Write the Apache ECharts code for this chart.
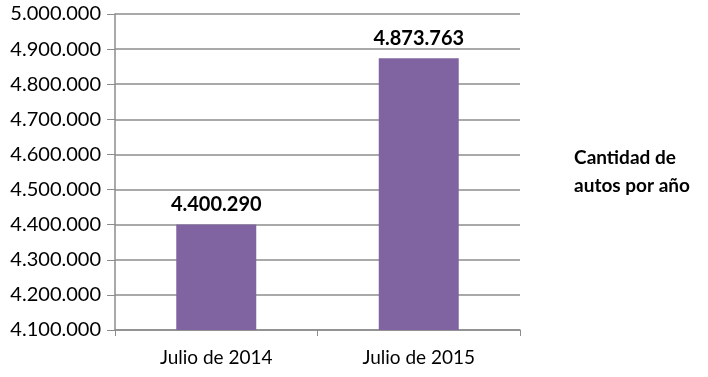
<!DOCTYPE html>
<html>
<head>
<meta charset="utf-8">
<script src="https://cdn.jsdelivr.net/npm/echarts@6/dist/echarts.min.js"></script>
<style>
  html, body { margin: 0; padding: 0; background: #fff; }
  #chart { width: 708px; height: 377px; }
</style>
</head>
<body>
<div id="chart"></div>
<script>
const categories = ['Julio de 2014', 'Julio de 2015']
const autos = [4400290, 4873763]
const seriesName = 'Cantidad de\nautos por año'

// 4873763 -> 4.873.763
const fmt = v => String(Math.round(v)).replace(/\B(?=(\d{3})+(?!\d))/g, '.')

const font = 'Lato, "Open Sans", sans-serif'
const gray = '#8c8c8c'

const chart = echarts.init(document.getElementById('chart'))
chart.setOption({
  animation: false,
  textStyle: {fontFamily: font},
  grid: {left: 115, right: 188, top: 14, bottom: 47},
  legend: {
    right: 13,
    top: 139,
    icon: 'none',
    itemWidth: 0,
    itemGap: 0,
    data: [seriesName],
    textStyle: {fontSize: 19, fontWeight: 'bold', color: '#000', lineHeight: 28, align: 'center', fontFamily: font},
  },
  xAxis: {
    type: 'category',
    data: categories,
    axisLine: {lineStyle: {color: gray, width: 1.5}},
    axisTick: {show: true, length: 6, lineStyle: {color: gray}},
    axisLabel: {fontSize: 19, color: '#000', margin: 18, fontFamily: font},
  },
  yAxis: {
    type: 'value',
    min: 4100000,
    max: 5000000,
    interval: 100000,
    axisLine: {show: true, lineStyle: {color: gray, width: 1.5}},
    axisTick: {show: true, length: 8, lineStyle: {color: gray}},
    splitLine: {lineStyle: {color: gray, width: 1.5}},
    axisLabel: {fontSize: 20, color: '#000', margin: 14, formatter: fmt, fontFamily: font},
  },
  series: [{
    name: seriesName,
    type: 'bar',
    data: autos,
    barWidth: 80,
    itemStyle: {color: '#8064a2'},
    label: {
      show: true,
      position: 'top',
      distance: 10,
      fontSize: 20,
      fontWeight: 'bold',
      color: '#000',
      formatter: p => fmt(p.value),
    },
  }],
})
</script>
</body>
</html>
